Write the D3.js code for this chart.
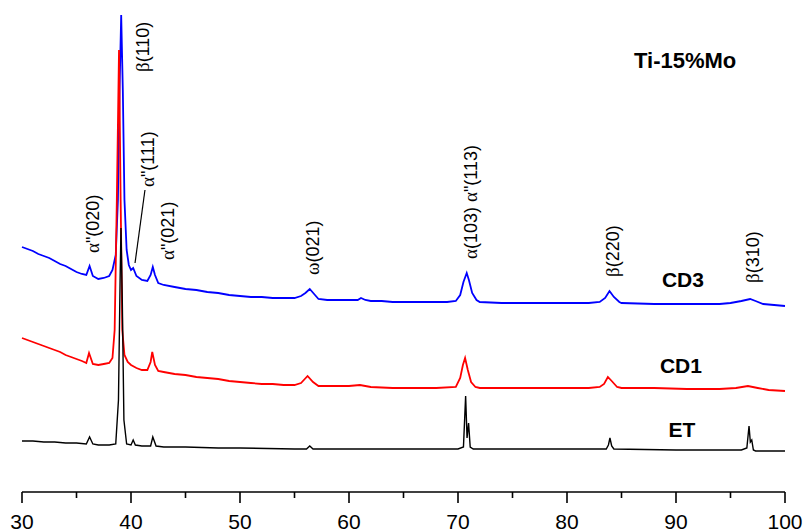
<!DOCTYPE html>
<html>
<head>
<meta charset="utf-8">
<script src="https://cdnjs.cloudflare.com/ajax/libs/d3/7.8.5/d3.min.js"></script>
<style>
  body { margin: 0; background: #fff; }
  svg text { font-family: "Liberation Sans", Arial, sans-serif; }
</style>
</head>
<body>
<svg id="chart" width="805" height="532"></svg>
<script>
// 2-theta (deg) and intensity (a.u., offset traces as plotted)
var cd3 = [
  [30,2450],[30.5,2430],[31,2410],[31.5,2380],[32,2360],[32.5,2340],[33,2310],[33.5,2280],
  [34,2260],[34.5,2230],[35,2200],[35.5,2180],[35.9,2170],[36.2,2260],[36.5,2160],[37,2130],
  [37.5,2140],[38,2160],[38.3,2220],[38.6,2370],[38.8,2920],[38.95,4020],[39.1,4770],
  [39.25,4020],[39.4,2920],[39.6,2420],[39.8,2270],[40,2220],[40.2,2240],[40.5,2160],
  [41,2120],[41.5,2110],[41.8,2170],[42,2250],[42.2,2170],[42.5,2090],[43,2070],[44,2050],
  [45,2030],[46,2020],[47,2000],[48,1990],[49,1970],[50,1960],[51,1950],[52,1950],[53,1940],
  [54,1940],[55,1940],[55.6,1960],[56,1990],[56.4,2030],[56.8,1980],[57.2,1930],[58,1920],
  [59,1920],[60,1920],[60.8,1920],[61.1,1940],[61.5,1920],[62,1910],[63,1910],[64,1900],
  [66,1900],[68,1900],[69,1900],[69.8,1910],[70.2,1970],[70.5,2100],[70.8,2190],[71,2120],
  [71.3,1990],[71.7,1920],[72,1900],[74,1890],[76,1890],[78,1890],[80,1890],[82,1890],
  [83,1900],[83.5,1940],[83.9,2010],[84.3,1950],[84.8,1900],[85,1890],[88,1880],[91,1880],
  [94,1880],[95,1890],[96,1910],[96.8,1930],[97.3,1910],[98,1880],[99,1870],[100,1860]
];
var cd1 = [
  [30,1540],[30.5,1520],[31,1500],[31.5,1480],[32,1460],[32.5,1440],[33,1420],[33.5,1400],
  [34,1370],[34.5,1350],[35,1330],[35.5,1310],[35.9,1290],[36.15,1390],[36.5,1280],[37,1270],
  [37.5,1280],[38,1290],[38.3,1340],[38.5,1620],[38.7,2920],[38.9,4420],[39.05,2920],
  [39.2,1620],[39.4,1370],[39.7,1300],[40,1270],[40.5,1240],[41,1220],[41.5,1220],
  [41.8,1300],[41.95,1400],[42.2,1270],[42.5,1210],[43,1200],[44,1180],[45,1170],[46,1150],
  [47,1140],[48,1130],[49,1110],[50,1100],[51,1090],[52,1080],[53,1080],[54,1070],[55,1070],
  [55.6,1090],[56.2,1160],[56.7,1100],[57.2,1060],[58,1060],[60,1060],[61,1070],[62,1050],
  [64,1040],[66,1040],[68,1040],[69.8,1050],[70.2,1140],[70.45,1270],[70.65,1340],
  [70.9,1220],[71.2,1100],[71.6,1050],[72,1040],[76,1040],[80,1040],[82,1040],[83,1050],
  [83.4,1080],[83.75,1150],[84.1,1110],[84.6,1050],[85,1040],[88,1040],[91,1030],[94,1030],
  [95.5,1040],[96.6,1060],[97.5,1040],[98.5,1020],[100,1010]
];
var et = [
  [30,510],[31,510],[32,500],[33,500],[34,490],[35,490],[35.9,480],[36.2,550],[36.5,480],
  [37,470],[38,470],[38.6,480],[38.85,920],[39,2120],[39.08,2640],[39.2,1920],[39.35,720],
  [39.6,480],[40,470],[40.2,520],[40.4,470],[41,460],[41.8,460],[42,550],[42.3,460],
  [43,450],[45,450],[48,440],[50,440],[55,430],[56.1,430],[56.4,460],[56.7,430],[60,430],
  [65,430],[70,430],[70.5,450],[70.7,960],[70.83,540],[70.97,690],[71.12,450],[71.4,430],
  [75,430],[80,430],[83.6,430],[83.8,470],[83.94,540],[84.1,460],[84.3,430],[90,420],
  [96,420],[96.5,440],[96.7,660],[96.82,500],[96.95,520],[97.1,420],[97.3,410],[100,410]
];

var xTicks = [30, 40, 50, 60, 70, 80, 90, 100];
var xMinorTicks = [35, 45, 55, 65, 75, 85, 95];

// peak labels: text, 2-theta of label baseline, intensity where the text starts
var peakLabels = [
  ["α\"(020)", 37.06, 2390],
  ["β(110)", 41.65, 4200],
  ["α\"(111)", 42.11, 3050],
  ["α\"(021)", 43.94, 2320],
  ["ω(021)", 57.25, 2170],
  ["α(103) α\"(113)", 71.74, 2330],
  ["β(220)", 84.77, 2150],
  ["β(310)", 97.61, 2090]
];
var seriesNames = ["CD3", "CD1", "ET"];
var seriesLabelPos = [[90.64, 2050], [90.45, 1190], [90.55, 550]];
var leader = [[40.37, 2290], [41.28, 3020]];

var svg = d3.select("#chart");
var x = d3.scaleLinear().domain([30, 100]).range([22, 785]);
var y = d3.scaleLinear().domain([0, 4920]).range([492, 0]);

var line = d3.line()
  .x(function(d) { return x(d[0]); })
  .y(function(d) { return y(d[1]); });

svg.append("path").datum(cd3)
  .attr("d", line).attr("fill", "none")
  .attr("stroke", "#0000ff").attr("stroke-width", 1.8);
svg.append("path").datum(cd1)
  .attr("d", line).attr("fill", "none")
  .attr("stroke", "#ff0000").attr("stroke-width", 1.8);
svg.append("path").datum(et)
  .attr("d", line).attr("fill", "none")
  .attr("stroke", "#000").attr("stroke-width", 1.4);

// x axis
var axis = svg.append("g").attr("transform", "translate(0,492)");
axis.append("line")
  .attr("x1", x(30)).attr("x2", x(100))
  .attr("stroke", "#000").attr("stroke-width", 1.6);
axis.selectAll(".major").data(xTicks).enter().append("line")
  .attr("x1", function(d) { return x(d); }).attr("x2", function(d) { return x(d); })
  .attr("y1", 0).attr("y2", 11)
  .attr("stroke", "#000").attr("stroke-width", 1.6);
axis.selectAll(".minor").data(xMinorTicks).enter().append("line")
  .attr("x1", function(d) { return x(d); }).attr("x2", function(d) { return x(d); })
  .attr("y1", 0).attr("y2", 6)
  .attr("stroke", "#000").attr("stroke-width", 1.6);
axis.selectAll(".tl").data(xTicks).enter().append("text")
  .attr("x", function(d) { return x(d); })
  .attr("y", 37)
  .attr("text-anchor", "middle")
  .attr("font-size", "21px")
  .text(function(d) { return d; });

// peak labels, rotated, greek letters in a serif face
function addRuns(sel, str) {
  var parts = str.match(/[α-ω]+|[^α-ω]+/g);
  parts.forEach(function(p) {
    var t = sel.append("tspan").text(p);
    if (/[α-ω]/.test(p)) t.attr("font-family", "Liberation Serif, serif").attr("font-size", "19px");
  });
}
peakLabels.forEach(function(p) {
  var t = svg.append("text")
    .attr("transform", "translate(" + x(p[1]) + "," + y(p[2]) + ") rotate(-90)")
    .attr("font-size", "18px")
    .attr("fill", "#000");
  addRuns(t, p[0]);
});

svg.append("line")
  .attr("x1", x(leader[0][0])).attr("y1", y(leader[0][1]))
  .attr("x2", x(leader[1][0])).attr("y2", y(leader[1][1]))
  .attr("stroke", "#000").attr("stroke-width", 1.2);

seriesNames.forEach(function(n, i) {
  svg.append("text")
    .attr("x", x(seriesLabelPos[i][0])).attr("y", y(seriesLabelPos[i][1]))
    .attr("text-anchor", "middle")
    .attr("font-size", "21px").attr("font-weight", "bold")
    .text(n);
});

svg.append("text")
  .attr("x", 634).attr("y", 68)
  .attr("font-size", "22px").attr("font-weight", "bold")
  .text("Ti-15%Mo");
</script>
</body>
</html>
